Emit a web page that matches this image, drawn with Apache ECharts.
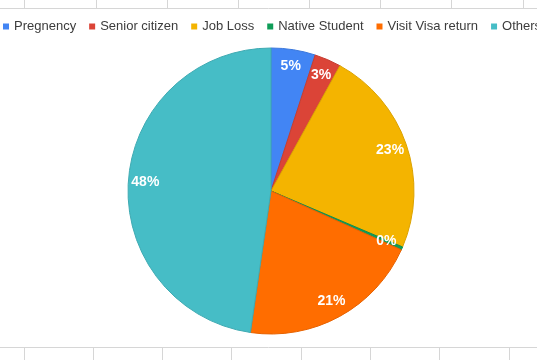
<!DOCTYPE html>
<html><head><meta charset="utf-8">
<script src="https://cdn.jsdelivr.net/npm/echarts@6/dist/echarts.min.js"></script>
<style>html,body{margin:0;padding:0;background:#fff}#c{width:537px;height:360px}</style>
</head><body><div id="c"></div>
<script>
const categories = ['Pregnency', 'Senior citizen', 'Job Loss', 'Native Student', 'Visit Visa return', 'Others'];
const values = [5, 3, 23.4, 0.35, 20.55, 47.7];
const colors = ['#4285F4', '#DB4437', '#F4B400', '#0F9D58', '#FF6D00', '#46BDC6'];
const borders = ['#3b78dc', '#c53d31', '#dba200', '#0d8d4f', '#e66200', '#3faab2'];
const topCols = [24, 96, 167, 238, 309, 380, 451, 523];
const botCols = [24, 93, 162, 231, 301, 370, 439, 509];

const gridColor = '#d6d6d6';
const graphics = [];
graphics.push({type:'line', shape:{x1:0,y1:8.5,x2:537,y2:8.5}, style:{stroke:gridColor,lineWidth:1}, z:-1});
graphics.push({type:'line', shape:{x1:0,y1:347.5,x2:537,y2:347.5}, style:{stroke:gridColor,lineWidth:1}, z:-1});
topCols.forEach(x => graphics.push({type:'line', shape:{x1:x+0.5,y1:0,x2:x+0.5,y2:8}, style:{stroke:gridColor,lineWidth:1}, z:-1}));
botCols.forEach(x => graphics.push({type:'line', shape:{x1:x+0.5,y1:348,x2:x+0.5,y2:360}, style:{stroke:gridColor,lineWidth:1}, z:-1}));

const data = categories.map((n, i) => ({name: n, value: values[i], itemStyle: {color: colors[i], borderColor: borders[i]}}));
const labelData = categories.map((n, i) => ({name: n, value: values[i]}));

const chart = echarts.init(document.getElementById('c'));
chart.setOption({
  animation: false,
  graphic: graphics,
  legend: {
    left: 3, top: 20, padding: 0, width: 900, itemWidth: 6, itemHeight: 6, itemGap: 13, icon: 'rect',
    itemStyle: {borderWidth: 0},
    textStyle: {fontFamily: 'Liberation Sans, Arial', fontSize: 13, color: '#3c3c3c'},
    data: categories
  },
  series: [
    {
      type: 'pie', center: [271, 191], radius: [0, 143], startAngle: 90, clockwise: true,
      percentPrecision: 0, label: {show: false}, labelLine: {show: false},
      itemStyle: {borderWidth: 1},
      emphasis: {disabled: true},
      data: data
    },
    {
      type: 'pie', center: [271, 191], radius: [103, 143], startAngle: 90, clockwise: true,
      percentPrecision: 0, silent: true, legendHoverLink: false,
      itemStyle: {color: 'rgba(0,0,0,0)', borderWidth: 0},
      label: {show: true, position: 'inside', formatter: '{d}%', color: '#fff', fontWeight: 'bold', fontSize: 14, padding: [4, 0, 0, 0], fontFamily: 'Liberation Sans, Arial'},
      labelLine: {show: false},
      emphasis: {disabled: true},
      data: labelData
    }
  ]
});
</script></body></html>
